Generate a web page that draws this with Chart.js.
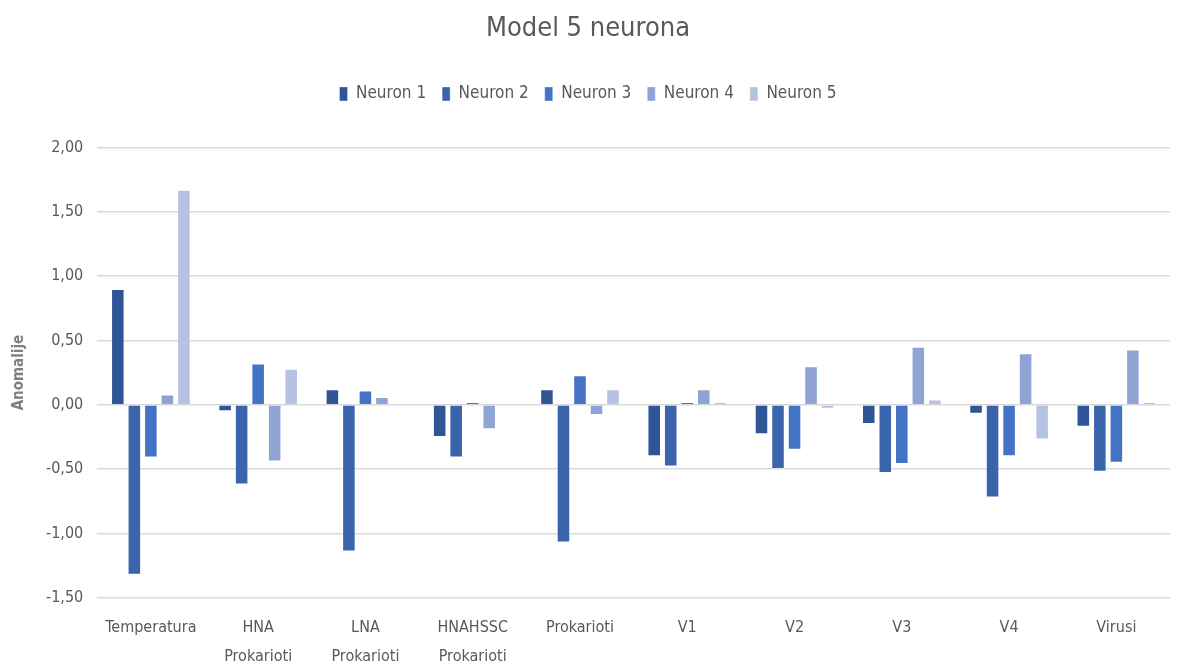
<!DOCTYPE html>
<html>
<head>
<meta charset="utf-8">
<script src="https://cdn.jsdelivr.net/npm/chart.js@4.4.0/dist/chart.umd.min.js"></script>
<style>
  html, body { margin: 0; padding: 0; background: #fff; overflow: hidden; }
  #wrap { width: 1182px; height: 679px; position: relative; }
</style>
</head>
<body>
<div id="wrap"><canvas id="c"></canvas></div>
<script>
/* Model 5 neurona */
const categories = [
  'Temperatura', ['HNA', 'Prokarioti'], ['LNA', 'Prokarioti'], ['HNAHSSC', 'Prokarioti'],
  'Prokarioti', 'V1', 'V2', 'V3', 'V4', 'Virusi'
];
const seriesNames = ['Neuron 1', 'Neuron 2', 'Neuron 3', 'Neuron 4', 'Neuron 5'];
const neuron1 = [0.90, -0.05, 0.12, -0.25, 0.12, -0.40, -0.23, -0.15, -0.07, -0.17];
const neuron2 = [-1.32, -0.62, -1.14, -0.41, -1.07, -0.48, -0.50, -0.53, -0.72, -0.52];
const neuron3 = [-0.41, 0.32, 0.11, 0.02, 0.23, 0.02, -0.35, -0.46, -0.40, -0.45];
const neuron4 = [0.08, -0.44, 0.06, -0.19, -0.08, 0.12, 0.30, 0.45, 0.40, 0.43];
const neuron5 = [1.67, 0.28, 0.00, 0.00, 0.12, 0.02, -0.03, 0.04, -0.27, 0.02];
const yTicks = [2.0, 1.5, 1.0, 0.5, 0.0, -0.5, -1.0, -1.5];

const COLORS = ['#2f5597', '#3a64ac', '#4472c4', '#8fa3d5', '#b6c2e3'];
const FONT = "'Liberation Sans Narrow', 'DejaVu Sans Condensed', 'Roboto Condensed', sans-serif";
const TEXT = '#595959';

const values = [neuron1, neuron2, neuron3, neuron4, neuron5];
const datasets = seriesNames.map((name, i) => ({
  label: name,
  data: values[i],
  backgroundColor: COLORS[i],
  borderColor: 'rgba(255,255,255,0.35)',
  borderWidth: 1,
  categoryPercentage: 0.77,
  barPercentage: 0.82,
}));

// extra room under the legend, like the Excel original
const legendGap = {
  id: 'legendGap',
  beforeInit(chart) {
    const fit = chart.legend.fit;
    chart.legend.fit = function () {
      fit.call(this);
      this.height += 35;
    };
  },
};

new Chart(document.getElementById('c'), {
  type: 'bar',
  data: { labels: categories, datasets },
  plugins: [legendGap],
  options: {
    responsive: true,
    maintainAspectRatio: false,
    animation: false,
    layout: { padding: { left: 6, right: 12, top: 12, bottom: 0 } },
    plugins: {
      title: {
        display: true,
        text: 'Model 5 neurona',
        color: TEXT,
        font: { family: FONT, size: 27, weight: 'normal' },
        padding: { top: 1, bottom: 24 },
      },
      legend: {
        display: true,
        position: 'top',
        labels: {
          color: TEXT,
          font: { family: FONT, size: 17 },
          boxWidth: 8,
          boxHeight: 14,
          padding: 16,
        },
      },
      tooltip: { enabled: false },
    },
    scales: {
      x: {
        grid: { display: false },
        border: { display: false },
        ticks: {
          color: TEXT,
          font: { family: FONT, size: 16, lineHeight: 1.85 },
          maxRotation: 0,
          autoSkip: false,
          padding: 7,
        },
      },
      y: {
        min: -1.5,
        max: 2.0,
        afterBuildTicks: axis => { axis.ticks = yTicks.map(v => ({ value: v })); },
        grid: { color: '#d9d9d9', lineWidth: 1.5, drawTicks: false },
        border: { display: false },
        ticks: {
          color: TEXT,
          font: { family: FONT, size: 16 },
          padding: 14,
          callback: v => Number(v).toFixed(2).replace('.', ','),
        },
        title: {
          display: true,
          text: 'Anomalije',
          color: '#7f7f7f',
          font: { family: FONT, size: 15, weight: 'bold' },
          padding: { bottom: 4 },
        },
      },
    },
  },
});
</script>
</body>
</html>
